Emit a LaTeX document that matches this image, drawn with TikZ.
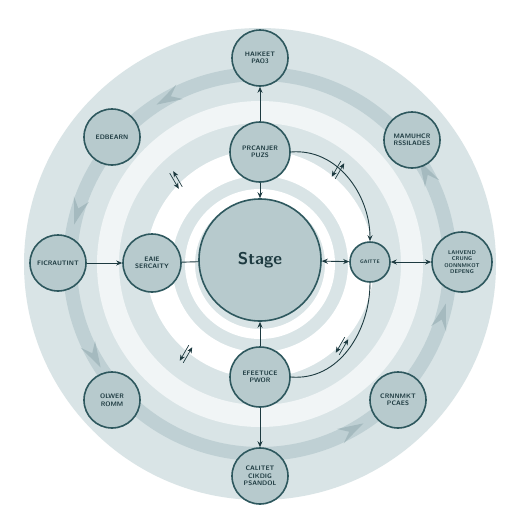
\documentclass[tikz,border=0pt]{standalone}
\usepackage{tikz}
\usetikzlibrary{arrows.meta,calc}

\definecolor{bgdisk}{HTML}{D9E4E6}
\definecolor{band}{HTML}{BFD0D4}
\definecolor{paleband}{HTML}{F1F5F6}
\definecolor{nodefill}{HTML}{B7CACD}
\definecolor{edge}{HTML}{2E585E}
\definecolor{ink}{HTML}{1D3A40}

\tikzset{
    stagenode/.style={circle, draw=edge, line width=1.6pt, fill=nodefill, text=ink,
        align=center, inner sep=1pt, font=\sffamily\bfseries\fontsize{6.5}{7.5}\selectfont},
    link/.style={draw=ink, line width=0.9pt, -{Stealth[length=6pt,width=5pt]}},
    twolink/.style={link, {Stealth[length=6pt,width=5pt]}-{Stealth[length=6pt,width=5pt]}}
}

\begin{document}
\begin{tikzpicture}[x=1pt, y=-1pt]
    \useasboundingbox (0,0) rectangle (512,512);
    \fill[white] (0,0) rectangle (512,512);

    % rings behind
    \fill[bgdisk] (260,264) circle (236);
    \draw[band, line width=14pt] (260,264) circle (190);
    \draw[paleband, line width=22pt] (260,264) circle (152);
    \draw[white, line width=26pt] (260,264) circle (101);
    \draw[white, line width=10pt] (260,264) circle (70);

    % arrow marks on the outer band
    \foreach \a in {65,-25,-115,-160,155,20} {
        \fill[band!65!edge, opacity=0.5] ($(260,264)+(\a:182)$) -- ($(260,264)+(\a-8:190)$)
            -- ($(260,264)+(\a:198)$) -- ($(260,264)+(\a-3:190)$) -- cycle;
    }

    \node [stagenode, minimum size=122pt, font=\sffamily\bfseries\fontsize{17}{19}\selectfont] (stage) at (260,260) {Stage};

    \node [stagenode, minimum size=60pt] (prc) at (260,152) {PRCANJER\\PUZS};
    \node [stagenode, minimum size=60pt] (eff) at (260,377) {EFEETUCE\\PWOR};
    \node [stagenode, minimum size=58pt] (eai) at (152,263) {EAIE\\SERCAITY};
    \node [stagenode, minimum size=40pt, font=\sffamily\bfseries\fontsize{5}{6}\selectfont] (gai) at (370,262) {GAITTE};

    \node [stagenode, minimum size=56pt] (hai) at (260,58) {HAIKEET\\PAO3};
    \node [stagenode, minimum size=56pt] (mam) at (412,140) {MAMUHCR\\RSSILADES};
    \node [stagenode, minimum size=60pt, font=\sffamily\bfseries\fontsize{5.5}{6.5}\selectfont] (lah) at (462,262) {LAHVEND\\CRUNG\\OONNMKOT\\DEPENG};
    \node [stagenode, minimum size=56pt] (crn) at (398,400) {CRNNMKT\\PCAES};
    \node [stagenode, minimum size=56pt] (cal) at (260,476) {CALITET\\CIKDIG\\PSANDOL};
    \node [stagenode, minimum size=56pt] (olw) at (112,400) {OLWER\\ROMM};
    \node [stagenode, minimum size=56pt] (fic) at (58,263) {FICRAUTINT};
    \node [stagenode, minimum size=56pt] (edb) at (112,137) {EDBEARN};

    \draw [link] (prc) -- (hai);
    \draw [link] (prc) -- (stage);
    \draw [link] (eff) -- (stage);
    \draw [link] (eff) -- (cal);
    \draw [link] (fic) -- (eai);
    \draw [draw=ink, line width=0.9pt] (eai) -- (stage);
    \draw [twolink] (stage) -- (gai);
    \draw [twolink] (gai) -- (lah);
    \draw [link] (prc.east) to[out=5, in=90] (gai.north);
    \draw [draw=ink, line width=0.9pt] (eff.east) to[out=-5, in=-90] (gai.south);

    % small crossing marks
    \foreach \px/\py/\r in {176/180/-60, 338/170/60, 186/354/60, 342/346/60} {
        \begin{scope}[shift={(\px,\py)}, rotate=\r]
            \draw [link, line width=0.7pt] (-9,2) -- (9,2);
            \draw [link, line width=0.7pt] (9,-2) -- (-9,-2);
        \end{scope}
    }
\end{tikzpicture}
\end{document}
